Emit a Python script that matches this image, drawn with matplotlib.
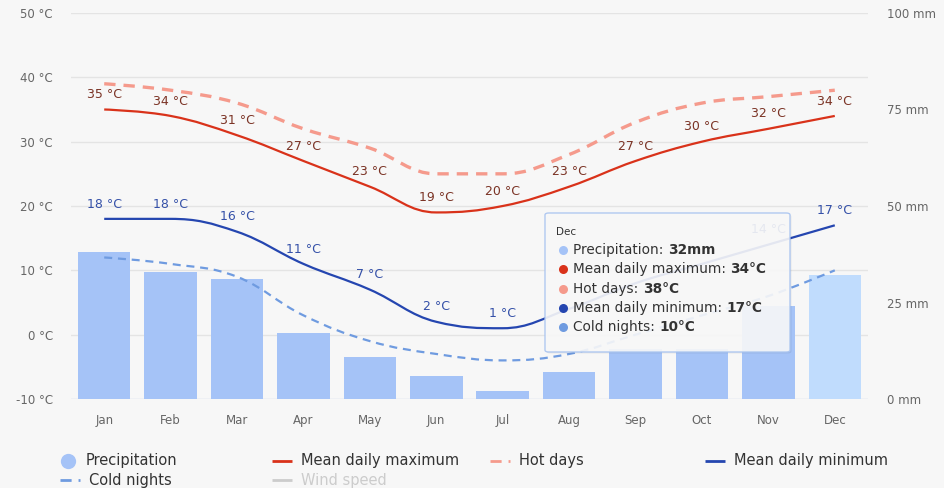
import matplotlib
matplotlib.use("Agg")
import matplotlib.pyplot as plt
from matplotlib.path import Path
from matplotlib.patches import PathPatch, FancyBboxPatch
from matplotlib.lines import Line2D

# Monthly climate values
months = ["Jan", "Feb", "Mar", "Apr", "May", "Jun",
          "Jul", "Aug", "Sep", "Oct", "Nov", "Dec"]
precipitation = [38, 33, 31, 17, 11, 6, 2, 7, 13, 13, 24, 32]   # mm
mean_max = [35, 34, 31, 27, 23, 19, 20, 23, 27, 30, 32, 34]     # °C
hot_days = [39, 38, 36, 32, 29, 25, 25, 28, 33, 36, 37, 38]     # °C
mean_min = [18, 18, 16, 11, 7, 2, 1, 4, 8, 11, 14, 17]          # °C
cold_nights = [12, 11, 9, 3, -1, -3, -4, -3, 0, 3, 6, 10]       # °C
temp_ticks = [-10, 0, 10, 20, 30, 40, 50]
rain_ticks = [0, 25, 50, 75, 100]
# minimum labels that sit under the tooltip are not drawn
hidden_min_labels = ["Aug", "Sep", "Oct"]

W, H = 944, 488
BG = "#f7f7f7"
C_BAR = "#a5c3f7"
C_BAR_HOVER = "#c0dcfd"
C_MAX = "#d9321a"
C_HOT = "#f59a8c"
C_MIN = "#2546b0"
C_COLD = "#6f9be0"
C_MAX_LBL = "#7b3325"
C_MIN_LBL = "#3450a8"
FONT = "DejaVu Sans"

plt.rcParams["font.family"] = FONT


def fig_xy(x, y):
    # pixel position (from top-left) -> figure fraction
    return x / W, 1 - y / H


def spline(xs, ys, smoothing=1.5):
    # Highcharts-style smooth curve through the points
    n = len(xs)
    left = [None] * n
    right = [None] * n
    for i in range(n):
        x, y = xs[i], ys[i]
        if i == 0 or i == n - 1:
            left[i] = right[i] = (x, y)
            continue
        px, py = xs[i - 1], ys[i - 1]
        nx, ny = xs[i + 1], ys[i + 1]
        d = smoothing + 1
        lx, ly = (smoothing * x + px) / d, (smoothing * y + py) / d
        rx, ry = (smoothing * x + nx) / d, (smoothing * y + ny) / d
        if rx != lx:
            corr = (ry - ly) * (rx - x) / (rx - lx) + y - ry
            ly += corr
            ry += corr
        if ly > py and ly > y:
            ly = max(py, y)
            ry = 2 * y - ly
        elif ly < py and ly < y:
            ly = min(py, y)
            ry = 2 * y - ly
        if ry > ny and ry > y:
            ry = max(ny, y)
            ly = 2 * y - ry
        elif ry < ny and ry < y:
            ry = min(ny, y)
            ly = 2 * y - ry
        left[i] = (lx, ly)
        right[i] = (rx, ry)
    verts = [(xs[0], ys[0])]
    codes = [Path.MOVETO]
    for i in range(1, n):
        verts += [right[i - 1], left[i], (xs[i], ys[i])]
        codes += [Path.CURVE4] * 3
    return Path(verts, codes)


fig = plt.figure(figsize=(W / 100, H / 100), dpi=100, facecolor=BG)
ax = fig.add_axes([71 / W, 89 / H, 797 / W, 386 / H])   # precipitation (mm)
axt = ax.twinx()                                         # temperature (°C)

x = list(range(len(months)))
ax.set_xlim(-0.5, 11.5)
ax.set_ylim(0, 100)
axt.set_ylim(-10, 50)
ax.set_facecolor(BG)

# horizontal grid at the temperature ticks, kept underneath the bars
for t in temp_ticks[1:]:
    mm = (t - temp_ticks[0]) / (temp_ticks[-1] - temp_ticks[0]) * 100
    ax.axhline(mm, color="#e4e4e4", lw=1, zorder=0)

bar_colors = [C_BAR] * (len(months) - 1) + [C_BAR_HOVER]
ax.bar(x, precipitation, width=0.79, color=bar_colors, zorder=2)

for vals, color, lw, dash in [
    (hot_days, C_HOT, 2.4, (3.4, 2.4)),
    (mean_max, C_MAX, 1.6, None),
    (cold_nights, C_COLD, 1.6, (3.6, 2.6)),
    (mean_min, C_MIN, 1.6, None),
]:
    patch = PathPatch(spline(x, vals), fill=False, edgecolor=color, lw=lw,
                      capstyle="butt", zorder=3)
    if dash:
        patch.set_linestyle((0, dash))
    axt.add_patch(patch)

for i, v in enumerate(mean_max):
    axt.annotate(f"{v} °C", (i, v), xytext=(0, 6), textcoords="offset points",
                 ha="center", va="bottom", fontsize=9, color=C_MAX_LBL, zorder=4)
for i, v in enumerate(mean_min):
    if months[i] in hidden_min_labels:
        continue
    axt.annotate(f"{v} °C", (i, v), xytext=(0, 6), textcoords="offset points",
                 ha="center", va="bottom", fontsize=9, color=C_MIN_LBL, zorder=4)

# axes styling
for a in (ax, axt):
    for s in a.spines.values():
        s.set_visible(False)
ax.axhline(0, color="#ccd6eb", lw=1, zorder=1)
ax.set_xticks(x)
ax.set_xticklabels(months)
ax.tick_params(axis="x", length=0, pad=11, labelsize=8.5, labelcolor="#666666")
ax.yaxis.tick_right()
ax.set_yticks(rain_ticks)
ax.set_yticklabels([f"{v} mm" for v in rain_ticks])
ax.tick_params(axis="y", length=0, pad=14, labelsize=8.5, labelcolor="#666666")
axt.yaxis.tick_left()
axt.set_yticks(temp_ticks)
axt.set_yticklabels([f"{v} °C" for v in temp_ticks])
axt.tick_params(axis="y", length=0, pad=13, labelsize=8.5, labelcolor="#666666")

# hover tooltip for December
x0, y0 = fig_xy(545, 352)
x1, y1 = fig_xy(790, 213)
shadow = FancyBboxPatch((x0 + 1.5 / W, y0 - 1.5 / H), x1 - x0, y1 - y0,
                        boxstyle="round,pad=0,rounding_size=0.004",
                        transform=fig.transFigure, facecolor="#000000",
                        alpha=0.06, edgecolor="none", zorder=9)
box = FancyBboxPatch((x0, y0), x1 - x0, y1 - y0,
                     boxstyle="round,pad=0,rounding_size=0.004",
                     transform=fig.transFigure, facecolor="#f9f9f9",
                     alpha=0.9, edgecolor="#a9c4f0", lw=1, zorder=10)
fig.add_artist(shadow)
fig.add_artist(box)

fig.text(*fig_xy(556, 232), months[-1], fontsize=7.5, color="#333333",
         va="center", zorder=11)
rows = [
    ("Precipitation: ", f"{precipitation[-1]}mm", C_BAR),
    ("Mean daily maximum: ", f"{mean_max[-1]}°C", C_MAX),
    ("Hot days: ", f"{hot_days[-1]}°C", C_HOT),
    ("Mean daily minimum: ", f"{mean_min[-1]}°C", C_MIN),
    ("Cold nights: ", f"{cold_nights[-1]}°C", C_COLD),
]
for k, (name, value, color) in enumerate(rows):
    ry = 250 + k * 19.3
    bx, by = fig_xy(563, ry)
    fig.add_artist(Line2D([bx], [by], marker="o", ms=6.5, color=color,
                          mec="none", transform=fig.transFigure, zorder=11))
    t = fig.text(*fig_xy(573, ry), name, fontsize=9.8, color="#333333",
                 va="center", zorder=11)
    fig.add_artist(plt.Annotation(value, xy=(1, 0), xycoords=t, fontsize=9.8,
                                  fontweight="bold", color="#333333",
                                  ha="left", va="bottom", zorder=11))

# legend
LEG_TXT = "#333333"
legend_items = [
    ("Precipitation", "dot", C_BAR, 60, 461),
    ("Mean daily maximum", "line", C_MAX, 272, 461),
    ("Hot days", "dash", C_HOT, 490, 461),
    ("Mean daily minimum", "line", C_MIN, 705, 461),
    ("Cold nights", "dash", C_COLD, 60, 480),
    ("Wind speed", "line", "#cccccc", 272, 480),
]
for name, kind, color, lx, ly in legend_items:
    if kind == "dot":
        px, py = fig_xy(lx + 8, ly)
        fig.add_artist(Line2D([px], [py], marker="o", ms=11, color=color,
                              mec="none", transform=fig.transFigure))
        tx = lx + 26
    else:
        ax_, ay_ = fig_xy(lx, ly)
        bx_, _ = fig_xy(lx + 20, ly)
        ln = Line2D([ax_, bx_], [ay_, ay_], color=color, lw=2,
                    transform=fig.transFigure, solid_capstyle="butt")
        if kind == "dash":
            ln.set_dashes((4, 2.5))
            ln.set_dash_capstyle("butt")
        fig.add_artist(ln)
        tx = lx + 29
    txt_color = "#cccccc" if name == "Wind speed" else LEG_TXT
    fig.text(*fig_xy(tx, ly), name, fontsize=10.5, color=txt_color, va="center")

fig.savefig("out.png", dpi=100, facecolor=BG)
